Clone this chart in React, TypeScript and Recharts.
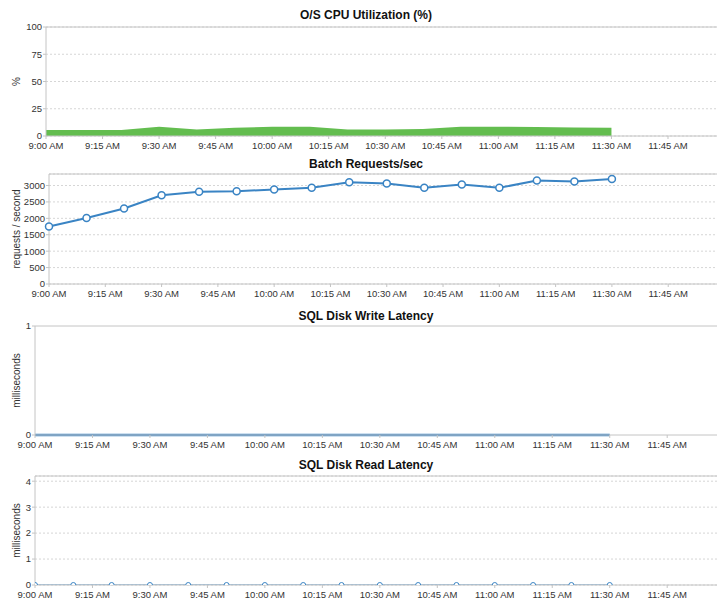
import { AreaChart, Area, LineChart, Line, XAxis, YAxis, CartesianGrid, ReferenceLine } from 'recharts'

// sample times, minutes after 9:00 AM
const sampleMinutes = [0, 10, 20, 30, 40, 50, 60, 70, 80, 90, 100, 110, 120, 130, 140, 150]
const cpuPercent = [5.5, 5.5, 5.5, 8.5, 6, 7.5, 8.5, 8.5, 6, 6, 6.5, 8.5, 8.5, 8.3, 7.8, 7.6]
const batchRequests = [1750, 2010, 2300, 2700, 2810, 2825, 2880, 2930, 3100, 3060, 2930, 3030, 2930, 3150, 3120, 3200]
const writeLatency = [0, 0, 0, 0, 0, 0, 0, 0, 0, 0, 0, 0, 0, 0, 0, 0]
const readLatency = [0, 0, 0, 0, 0, 0, 0, 0, 0, 0, 0, 0, 0, 0, 0, 0]

const xTicks = [0, 15, 30, 45, 60, 75, 90, 105, 120, 135, 150, 165]
const xTickLabels = ['9:00 AM', '9:15 AM', '9:30 AM', '9:45 AM', '10:00 AM', '10:15 AM', '10:30 AM', '10:45 AM', '11:00 AM', '11:15 AM', '11:30 AM', '11:45 AM']
const cpuTicks = [0, 25, 50, 75, 100]
const batchTicks = [0, 500, 1000, 1500, 2000, 2500, 3000]
const writeTicks = [0, 1]
const readTicks = [0, 1, 2, 3, 4]

const rows = sampleMinutes.map((t, i) => ({
  t,
  cpu: cpuPercent[i],
  batch: batchRequests[i],
  write: writeLatency[i],
  read: readLatency[i],
}))

const X_MAX = 178
const AXIS = '#c4c4c4'
const GRID = '#d6d6d6'
const BLUE = '#3a84c4'
const GREEN = '#63bd4f'
const tickStyle = { fill: '#333', fontSize: 9.5 }

const fmtX = (v: number) => xTickLabels[xTicks.indexOf(v)] ?? ''

function xAxis(height: number, clip = false) {
  return (
    <XAxis
      dataKey="t"
      type="number"
      domain={[0, X_MAX]}
      ticks={xTicks}
      interval={0}
      tickFormatter={fmtX}
      tick={tickStyle}
      tickSize={3}
      tickMargin={3}
      stroke={AXIS}
      height={height}
      allowDataOverflow={clip}
    />
  )
}

function yAxis(width: number, ticks: number[], max: number, label: string, dx: number, clip = false) {
  return (
    <YAxis
      type="number"
      domain={[0, max]}
      ticks={ticks}
      interval={0}
      width={width}
      tick={tickStyle}
      tickSize={3}
      tickMargin={1}
      stroke={AXIS}
      allowDataOverflow={clip}
      label={{ value: label, angle: -90, position: 'center', dx, style: { fill: '#333', fontSize: 10 } }}
    />
  )
}

function Title({ text, y }: { text: string; y: number }) {
  return (
    <div
      style={{
        position: 'absolute',
        top: y - 7,
        left: 0,
        width: 732,
        lineHeight: '14px',
        textAlign: 'center',
        fontWeight: 'bold',
        fontSize: 12,
        color: '#111',
      }}
    >
      {text}
    </div>
  )
}

export default function App() {
  return (
    <div style={{ position: 'relative', width: 718, height: 599, fontFamily: '"Liberation Sans", Arial, sans-serif', background: '#fff' }}>
      <style>{'body{margin:0}'}</style>

      <Title text="O/S CPU Utilization (%)" y={15} />
      <div style={{ position: 'absolute', top: 0, left: 0 }}>
        <AreaChart width={718} height={160} data={rows} margin={{ top: 27, right: 1, left: 0, bottom: 0 }}>
          <CartesianGrid vertical={false} stroke={GRID} strokeDasharray="2 2" />
          {xAxis(24)}
          {yAxis(46, cpuTicks, 100, '%', -7)}
          <ReferenceLine y={100} stroke={AXIS} />
          <Area type="linear" dataKey="cpu" stroke="none" fill={GREEN} fillOpacity={1} isAnimationActive={false} />
        </AreaChart>
      </div>

      <Title text="Batch Requests/sec" y={164} />
      <div style={{ position: 'absolute', top: 160, left: 0 }}>
        <LineChart width={718} height={148} data={rows} margin={{ top: 14, right: 1, left: 0, bottom: 0 }}>
          <CartesianGrid vertical={false} stroke={GRID} strokeDasharray="2 2" />
          {xAxis(24)}
          {yAxis(49, batchTicks, 3350, 'requests / second', -8)}
          <ReferenceLine y={3350} stroke={AXIS} />
          <Line
            type="linear"
            dataKey="batch"
            stroke={BLUE}
            strokeWidth={2}
            dot={{ r: 3.5, fill: '#fff', stroke: BLUE, strokeWidth: 1.5 }}
            isAnimationActive={false}
          />
        </LineChart>
      </div>

      <Title text="SQL Disk Write Latency" y={316} />
      <div style={{ position: 'absolute', top: 308, left: 0 }}>
        <LineChart width={718} height={151} data={rows} margin={{ top: 18, right: 1, left: 0, bottom: 0 }}>
          {xAxis(24)}
          {yAxis(35, writeTicks, 1, 'milliseconds', -1)}
          <ReferenceLine y={1} stroke={AXIS} />
          <Line type="linear" dataKey="write" stroke={BLUE} strokeWidth={2.5} dot={false} isAnimationActive={false} />
        </LineChart>
      </div>

      <Title text="SQL Disk Read Latency" y={465} />
      <div style={{ position: 'absolute', top: 459, left: 0 }}>
        <LineChart width={718} height={140} data={rows} margin={{ top: 17, right: 1, left: 0, bottom: 0 }}>
          <CartesianGrid vertical={false} stroke={GRID} strokeDasharray="2 2" />
          {xAxis(14, true)}
          {yAxis(35, readTicks, 4.2, 'milliseconds', -1, true)}
          <ReferenceLine y={4.2} stroke={AXIS} />
          <Line
            type="linear"
            dataKey="read"
            stroke={BLUE}
            strokeWidth={1.2}
            dot={{ r: 2.5, fill: '#fff', stroke: BLUE, strokeWidth: 1 }}
            isAnimationActive={false}
          />
        </LineChart>
      </div>
    </div>
  )
}
